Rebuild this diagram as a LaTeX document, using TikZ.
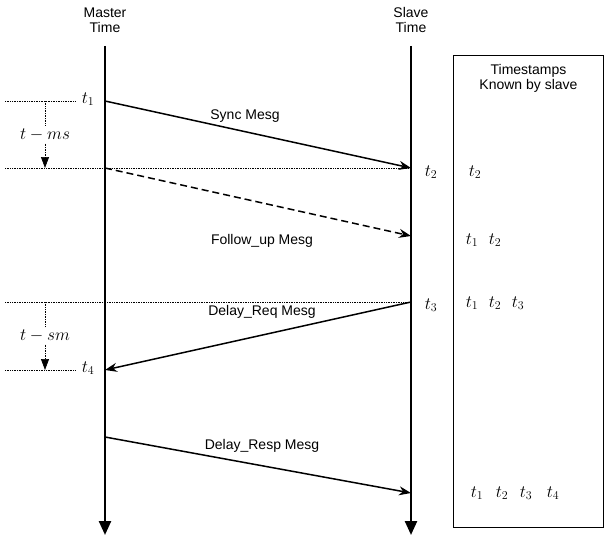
\documentclass[tikz,border=0pt]{standalone}
\usepackage{fontspec}
\setmainfont{Liberation Sans}
\usetikzlibrary{arrows.meta,positioning}

\begin{document}
\begin{tikzpicture}[x=1pt,y=-1pt,
  timeline/.style={line width=2.4pt,-{Triangle[width=12pt,length=14pt]}},
  mesg/.style={line width=1.5pt,-{Stealth[length=12pt,width=9pt]}},
  guide/.style={densely dotted,line width=0.7pt},
  gap/.style={densely dotted,line width=0.7pt,-{Triangle[width=8pt,length=11pt]}},
  lbl/.style={font=\fontsize{14}{15}\selectfont,align=center,inner sep=1pt},
  stamp/.style={font=\fontsize{18}{18}\selectfont,inner sep=1pt}]
\useasboundingbox (0,0) rectangle (605,535);
% time lines
\node[lbl] (master) at (105,20) {Master\\Time};
\node[lbl] (slave) at (411,20) {Slave\\Time};
\coordinate (mtop) at (105,46);
\coordinate (mend) at (105,535);
\coordinate (stop) at (411,46);
\coordinate (send) at (411,535);
\draw[timeline] (mtop) -- (mend);
\draw[timeline] (stop) -- (send);
% event points
\coordinate (m1) at (105,101);
\coordinate (m2) at (105,168);
\coordinate (m4) at (105,370);
\coordinate (m5) at (105,437);
\coordinate (s2) at (411,168);
\coordinate (s2b) at (411,236);
\coordinate (s3) at (411,302);
\coordinate (s5) at (411,493);
\node[stamp] (t1) at (88,99) {$t_1$};
\node[stamp] (t4) at (88,368) {$t_4$};
\node[stamp] (t2) at (431,172) {$t_2$};
\node[stamp] (t3) at (431,305) {$t_3$};
% guide lines
\coordinate (g1) at (5,101);
\coordinate (g2) at (5,168);
\coordinate (g3) at (5,302);
\coordinate (g4) at (5,370);
\coordinate (g4e) at (75,370);
\coordinate (g1e) at (75,101);
\draw[guide] (g1) -- (g1e);
\draw[guide] (g2) -- (s2);
\draw[guide] (g3) -- (s3);
\draw[guide] (g4) -- (g4e);
\coordinate (d1) at (45,101);
\coordinate (d2) at (45,168);
\coordinate (d3) at (45,302);
\coordinate (d4) at (45,370);
\draw[gap] (d1) -- node[fill=white,stamp,inner sep=2pt] (ms) {$t-ms$} (d2);
\draw[gap] (d3) -- node[fill=white,stamp,inner sep=2pt] (sm) {$t-sm$} (d4);
% messages
\draw[mesg] (m1) -- (s2);
\draw[mesg,dash pattern=on 7pt off 4pt] (m2) -- (s2b);
\draw[mesg] (s3) -- (m4);
\draw[mesg] (m5) -- (s5);
\node[lbl] (sync) at (245,116) {Sync Mesg};
\node[lbl] (follow) at (262,241) {Follow\_up Mesg};
\node[lbl] (req) at (262,312) {Delay\_Req Mesg};
\node[lbl] (resp) at (262,446) {Delay\_Resp Mesg};
% known by slave
\node[draw,line width=1pt,minimum width=150pt,minimum height=472pt,anchor=north west,inner sep=0pt] (known) at (453,55) {};
\node[lbl,below=8pt of known.north] (title) {Timestamps\\Known by slave};
\node[stamp] (k1a) at (475,172) {$t_2$};
\node[stamp] (k2a) at (472,240) {$t_1$};
\node[stamp] (k2b) at (495,240) {$t_2$};
\node[stamp] (k3a) at (472,303) {$t_1$};
\node[stamp] (k3b) at (495,303) {$t_2$};
\node[stamp] (k3c) at (518,303) {$t_3$};
\node[stamp] (k4a) at (477,493) {$t_1$};
\node[stamp] (k4b) at (502,493) {$t_2$};
\node[stamp] (k4c) at (526,493) {$t_3$};
\node[stamp] (k4d) at (553,493) {$t_4$};
\end{tikzpicture}
\end{document}
